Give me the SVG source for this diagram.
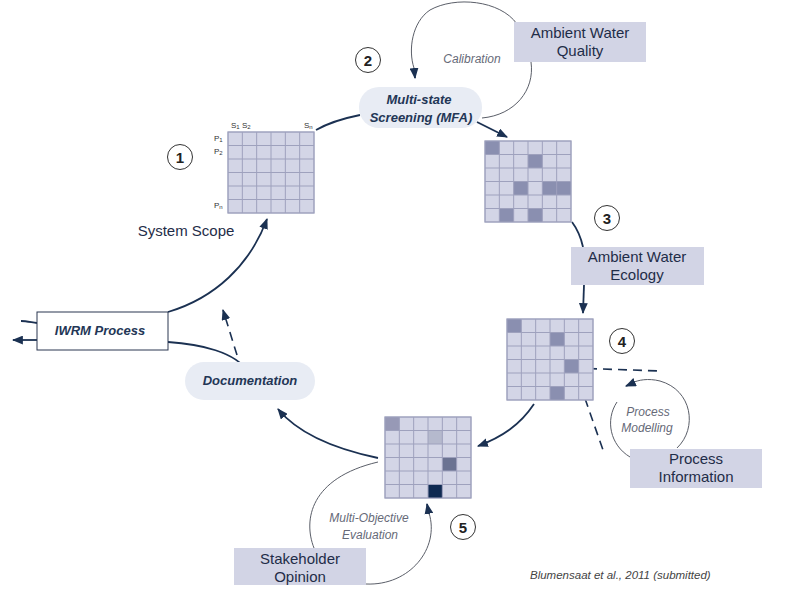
<svg xmlns="http://www.w3.org/2000/svg" width="787" height="595" viewBox="0 0 787 595">
<style>
.box{fill:#d2d4e5}
.pill{fill:#e8ecf4}
.lbl{font-family:"Liberation Sans",Arial,sans-serif;font-size:15px;fill:#1f2d48;text-anchor:middle}
.ilbl{font-family:"Liberation Sans",Arial,sans-serif;font-size:13px;font-weight:bold;font-style:italic;fill:#233656;text-anchor:middle}
.gray{font-family:"Liberation Sans",Arial,sans-serif;font-size:12px;font-style:italic;fill:#666a78;text-anchor:middle}
.num{font-family:"Liberation Sans",Arial,sans-serif;font-size:15px;font-weight:bold;fill:#222;text-anchor:middle}
.ring{fill:#fff;stroke:#333;stroke-width:1}
.main{fill:none;stroke:#1b3152;stroke-width:1.8}
.dash{fill:none;stroke:#1b3152;stroke-width:1.6;stroke-dasharray:9,6}
.loop{fill:none;stroke:#5a5e68;stroke-width:1}
.gbg{fill:#d3d5e6;stroke:#9ea1bd;stroke-width:1}
.gl{stroke:#9ea1bd;stroke-width:1}
.dk{fill:#8a8fb0}
.sm{font-family:"Liberation Sans",Arial,sans-serif;font-size:8px;fill:#333}
</style>
<defs>
<marker id="ah" viewBox="0 0 10 8" refX="9" refY="4" markerWidth="11" markerHeight="9" markerUnits="userSpaceOnUse" orient="auto">
<path d="M0,0 L10,4 L0,8 z" fill="#1b3152"/>
</marker>
<g id="grid">
<rect class="gbg" x="0" y="0" width="86" height="81"/>
</g>
<g id="lines">
<path class="gl" d="M14.33,0V81M28.67,0V81M43,0V81M57.33,0V81M71.67,0V81M0,13.5H86M0,27H86M0,40.5H86M0,54H86M0,67.5H86"/>
<rect x="0" y="0" width="86" height="81" fill="none" stroke="#9ea1bd"/>
</g>
</defs>

<g id="connectors">
<path class="main" d="M168,312 C215,298 250,265 267,219" marker-end="url(#ah)"/>
<path class="main" d="M316,130 C330,122 345,118 360,115"/>
<path class="main" d="M477,122 L507,137" marker-end="url(#ah)"/>
<path class="main" d="M572,222 C578,230 581,238 583,247"/>
<path class="main" d="M584,285 L583,313" marker-end="url(#ah)"/>
<path class="main" d="M534,404 C520,425 502,437 478,446" marker-end="url(#ah)"/>
<path class="main" d="M378,458 C340,450 300,436 278,409" marker-end="url(#ah)"/>
<path class="main" d="M168,342 C200,344 236,352 248,372"/>
<path class="dash" d="M237,355 L223,310" marker-end="url(#ah)"/>
<path class="main" d="M37,323 C30,322 26,321 21,321"/>
<path class="main" d="M37,340 L13,340" marker-end="url(#ah)"/>
<path class="dash" d="M573,368 L660,371"/>
<path class="dash" d="M575,370 L603,450"/>
<path class="loop" d="M517,24 C500,0 455,-4 430,10 C412,22 408,50 414,68"/>
<path class="main" d="M414,68 L415,78" marker-end="url(#ah)" stroke-width="1"/>
<path class="loop" d="M531,62 C535,90 515,115 482,118"/>
<path class="loop" d="M677,448 C698,428 692,390 660,381 C648,378 638,380 632,383"/>
<path class="main" d="M633,383 L626,386" marker-end="url(#ah)" stroke-width="1"/>
<path class="loop" d="M630,457 C610,445 605,420 617,402"/>
<path class="loop" d="M314,548 C303,520 310,478 378,462"/>
<path class="loop" d="M366,584 C410,586 440,548 429,513"/>
<path class="main" d="M429,514 L427,504" marker-end="url(#ah)" stroke-width="1"/>
</g>

<g id="grid1">
<use href="#grid" x="228" y="132"/>
<use href="#lines" x="228" y="132"/>
<text class="sm" x="231" y="128">S<tspan font-size="6" dy="1">1</tspan><tspan dy="-1"> S</tspan><tspan font-size="6" dy="1">2</tspan></text>
<text class="sm" x="304" y="128">S<tspan font-size="6" dy="1">n</tspan></text>
<text class="sm" x="214" y="141">P<tspan font-size="6" dy="1">1</tspan></text>
<text class="sm" x="214" y="154">P<tspan font-size="6" dy="1">2</tspan></text>
<text class="sm" x="214" y="208">P<tspan font-size="6" dy="1">n</tspan></text>
</g>
<g id="grid2" transform="translate(485,141)">
<use href="#grid"/>
<rect class="dk" x="0" y="0" width="14.33" height="13.5"/>
<rect class="dk" x="43" y="13.5" width="14.33" height="13.5"/>
<rect class="dk" x="28.67" y="40.5" width="14.33" height="13.5"/>
<rect class="dk" x="57.33" y="40.5" width="28.67" height="13.5"/>
<rect class="dk" x="14.33" y="67.5" width="14.33" height="13.5"/>
<rect class="dk" x="43" y="67.5" width="14.33" height="13.5"/>
<use href="#lines"/>
</g>
<g id="grid3" transform="translate(507,319)">
<use href="#grid"/>
<rect class="dk" x="0" y="0" width="14.33" height="13.5"/>
<rect class="dk" x="43" y="13.5" width="14.33" height="13.5"/>
<rect class="dk" x="57.33" y="40.5" width="14.33" height="13.5"/>
<rect class="dk" x="43" y="67.5" width="14.33" height="13.5"/>
<use href="#lines"/>
</g>
<g id="grid4" transform="translate(385,417)">
<use href="#grid"/>
<rect fill="#9799b6" x="0" y="0" width="14.33" height="13.5"/>
<rect fill="#b5b9cd" x="43" y="13.5" width="14.33" height="13.5"/>
<rect fill="#6b7392" x="57.33" y="40.5" width="14.33" height="13.5"/>
<rect fill="#0f2a52" x="43" y="67.5" width="14.33" height="13.5"/>
<use href="#lines"/>
</g>

<g id="n1"><circle class="ring" cx="180" cy="157" r="12.5"/><text class="num" x="180" y="162.5">1</text></g>
<g id="n2"><circle class="ring" cx="368" cy="60" r="12.5"/><text class="num" x="368" y="65.5">2</text></g>
<g id="n3"><circle class="ring" cx="607" cy="218" r="12.5"/><text class="num" x="607" y="223.5">3</text></g>
<g id="n4"><circle class="ring" cx="622" cy="341" r="12.5"/><text class="num" x="622" y="346.5">4</text></g>
<g id="n5"><circle class="ring" cx="463" cy="527" r="12.5"/><text class="num" x="463" y="532.5">5</text></g>

<g id="awq"><rect class="box" x="514" y="22" width="132" height="40"/><text class="lbl" x="580" y="38">Ambient Water</text><text class="lbl" x="580" y="56">Quality</text></g>
<g id="mfa"><rect class="pill" x="359" y="87" width="123" height="41" rx="20"/><text class="ilbl" x="419" y="104">Multi-state</text><text class="ilbl" x="421" y="122">Screening (MFA)</text></g>
<g id="awe"><rect class="box" x="571" y="247" width="133" height="38"/><text class="lbl" x="637" y="262">Ambient Water</text><text class="lbl" x="637" y="280">Ecology</text></g>
<g id="pi"><rect class="box" x="630" y="449" width="132" height="39"/><text class="lbl" x="696" y="464">Process</text><text class="lbl" x="696" y="482">Information</text></g>
<g id="so"><rect class="box" x="234" y="548" width="132" height="37"/><text class="lbl" x="300" y="564">Stakeholder</text><text class="lbl" x="300" y="582">Opinion</text></g>
<g id="iwrm"><rect x="37" y="312" width="131" height="38" fill="#fff" stroke="#2a3650" stroke-width="1"/><text class="ilbl" x="100" y="335">IWRM Process</text></g>
<g id="doc"><rect class="pill" x="185" y="362" width="130" height="38" rx="19"/><text class="ilbl" x="250" y="385">Documentation</text></g>

<g id="labels">
<text class="lbl" x="186" y="236">System Scope</text>
<text class="gray" x="472" y="63">Calibration</text>
<text class="gray" x="648" y="416">Process</text>
<text class="gray" x="647" y="432">Modelling</text>
<text class="gray" x="369" y="522">Multi-Objective</text>
<text class="gray" x="370" y="539">Evaluation</text>
<text x="530" y="579" font-family="Liberation Sans, Arial, sans-serif" font-size="11.5" font-style="italic" fill="#444">Blumensaat et al., 2011 (submitted)</text>
</g>
</svg>
